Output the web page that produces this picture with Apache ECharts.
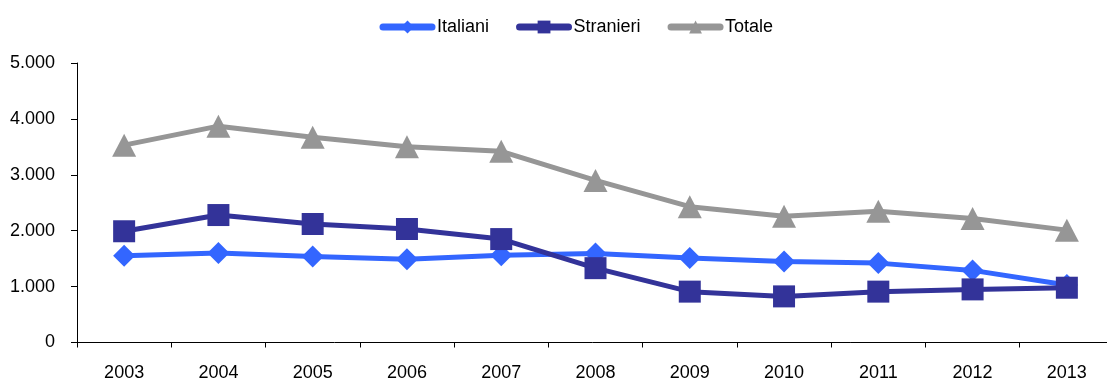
<!DOCTYPE html>
<html>
<head>
<meta charset="utf-8">
<script src="https://cdn.jsdelivr.net/npm/echarts@6/dist/echarts.min.js"></script>
<style>
html,body{margin:0;padding:0;background:#fff;}
#c{width:1107px;height:379px;}
</style>
</head>
<body>
<div id="c"></div>
<script>
const categories = ['2003','2004','2005','2006','2007','2008','2009','2010','2011','2012','2013'];
const italiani  = [1550, 1600, 1540, 1490, 1560, 1590, 1510, 1450, 1420, 1290, 1030];
const stranieri = [1990, 2280, 2120, 2030, 1850, 1330, 910, 825, 910, 950, 980];
const totale    = [3530, 3870, 3670, 3500, 3420, 2900, 2430, 2260, 2350, 2220, 2010];
const yTicks = [0, 1000, 2000, 3000, 4000, 5000];

const FONT = "'Liberation Sans', Arial, sans-serif";

function fmt(v){
  return String(v).replace(/\B(?=(\d{3})+(?!\d))/g, '.');
}

const chart = echarts.init(document.getElementById('c'), null, {renderer:'canvas'});
chart.setOption({
  animation: false,
  backgroundColor: '#ffffff',
  textStyle: {fontFamily: FONT},
  legend: {
    left: 374.5, top: 13, padding: 5,
    itemWidth: 49, itemHeight: 16, itemGap: 27,
    textStyle: {fontFamily: FONT, fontSize: 18, color: '#000'},
    lineStyle: {width: 7, cap: 'round'},
    data: ['Italiani', 'Stranieri', 'Totale']
  },
  grid: {left: 77, top: 63, right: -7, bottom: 36.5, containLabel: false, outerBoundsMode: 'none'},
  xAxis: {
    type: 'category',
    data: categories,
    boundaryGap: true,
    axisLine: {lineStyle: {color: '#000', width: 1}},
    axisTick: {show: true, length: 5, lineStyle: {color: '#000'}},
    axisLabel: {color: '#000', fontFamily: FONT, fontSize: 18, margin: 22}
  },
  yAxis: {
    type: 'value',
    min: yTicks[0], max: yTicks[yTicks.length-1], interval: 1000,
    axisLine: {show: true, lineStyle: {color: '#000', width: 1}},
    axisTick: {show: true, length: 6, lineStyle: {color: '#000'}},
    splitLine: {show: false},
    axisLabel: {color: '#000', fontFamily: FONT, fontSize: 18, margin: 22, formatter: fmt}
  },
  series: [
    {
      name: 'Italiani', type: 'line', data: italiani,
      symbol: 'diamond', symbolSize: 22,
      lineStyle: {color: '#3366FF', width: 5},
      itemStyle: {color: '#3366FF'}
    },
    {
      name: 'Stranieri', type: 'line', data: stranieri,
      symbol: 'rect', symbolSize: 22,
      lineStyle: {color: '#333399', width: 5},
      itemStyle: {color: '#333399'}
    },
    {
      name: 'Totale', type: 'line', data: totale,
      symbol: 'triangle', symbolSize: [24, 23],
      lineStyle: {color: '#969696', width: 5},
      itemStyle: {color: '#969696'}
    }
  ]
});
</script>
</body>
</html>
